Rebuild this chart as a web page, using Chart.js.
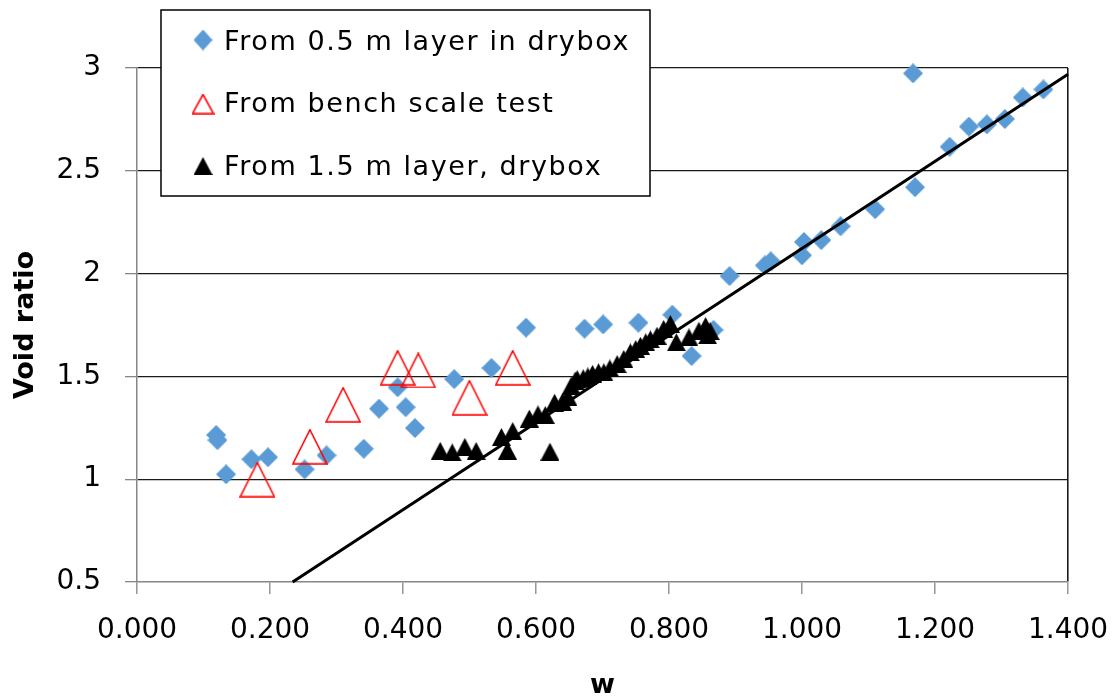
<!DOCTYPE html>
<html>
<head>
<meta charset="utf-8">
<title>Void ratio vs w</title>
<script src="https://cdn.jsdelivr.net/npm/chart.js@4.4.1/dist/chart.umd.min.js"></script>
<style>
    html, body { margin: 0; padding: 0; background: #fff; }
    #wrap { width: 1115px; height: 699px; }
</style>
</head>
<body>
<div id="wrap"><canvas id="voidratiograph" width="1115" height="699"></canvas></div>
<script>
// [w, void ratio] pairs for each test series
const drybox05 = [
    [0.119, 1.215], [0.121, 1.190], [0.134, 1.024], [0.172, 1.097], [0.197, 1.107],
    [0.252, 1.048], [0.285, 1.116], [0.341, 1.148], [0.364, 1.343], [0.392, 1.447],
    [0.404, 1.350], [0.418, 1.249], [0.477, 1.487], [0.533, 1.541], [0.585, 1.737],
    [0.673, 1.732], [0.701, 1.753], [0.754, 1.761], [0.805, 1.800], [0.834, 1.599],
    [0.858, 1.717], [0.867, 1.726], [0.891, 1.988], [0.944, 2.040], [0.953, 2.060],
    [1.000, 2.089], [1.003, 2.154], [1.029, 2.163], [1.058, 2.230], [1.110, 2.313],
    [1.167, 2.974], [1.170, 2.420], [1.222, 2.617], [1.251, 2.715], [1.278, 2.726],
    [1.305, 2.752], [1.332, 2.857], [1.363, 2.896],
];
const benchScale = [
    [0.181, 0.998], [0.260, 1.158], [0.310, 1.362], [0.392, 1.542],
    [0.423, 1.529], [0.500, 1.396], [0.565, 1.542],
];
const drybox15 = [
    [0.456, 1.138], [0.474, 1.130], [0.493, 1.157], [0.510, 1.137], [0.548, 1.205],
    [0.557, 1.139], [0.565, 1.234], [0.590, 1.295], [0.603, 1.315], [0.614, 1.312],
    [0.621, 1.134], [0.628, 1.372], [0.640, 1.377], [0.648, 1.400], [0.653, 1.455],
    [0.659, 1.480], [0.662, 1.487], [0.671, 1.491], [0.678, 1.500], [0.685, 1.512],
    [0.694, 1.520], [0.702, 1.520], [0.711, 1.539], [0.722, 1.560], [0.732, 1.585],
    [0.742, 1.617], [0.750, 1.633], [0.757, 1.649], [0.765, 1.666], [0.772, 1.680],
    [0.782, 1.698], [0.792, 1.731], [0.802, 1.755], [0.811, 1.666], [0.830, 1.690],
    [0.845, 1.722], [0.855, 1.745], [0.858, 1.700], [0.862, 1.720],
];
const trendLine = [[0.234, 0.5], [1.4, 2.97]];

const seriesLabels = [
    "From 0.5 m layer in drybox",
    "From bench scale test",
    "From 1.5 m layer, drybox",
];
const xTickLabels = ["0.000", "0.200", "0.400", "0.600", "0.800", "1.000", "1.200", "1.400"];
const yTickLabels = ["0.5", "1", "1.5", "2", "2.5", "3"];

const toPoints = (rows) => rows.map(([x, y]) => ({ x, y }));

// marker images
function makeMarker(w, h, draw) {
    const c = document.createElement("canvas");
    c.width = w;
    c.height = h;
    draw(c.getContext("2d"), w, h);
    return c;
}
const diamond = (w, h) => makeMarker(w, h, (g) => {
    g.fillStyle = "#5B9BD5";
    g.beginPath();
    g.moveTo(w / 2, 0);
    g.lineTo(w, h / 2);
    g.lineTo(w / 2, h);
    g.lineTo(0, h / 2);
    g.closePath();
    g.fill();
});
const openTriangle = (w, h) => makeMarker(w, h, (g) => {
    g.strokeStyle = "#FF0000";
    g.lineWidth = 1.6;
    g.beginPath();
    g.moveTo(w / 2, 1);
    g.lineTo(w - 1, h - 1);
    g.lineTo(1, h - 1);
    g.closePath();
    g.stroke();
});
const solidTriangle = (w, h) => makeMarker(w, h, (g) => {
    g.fillStyle = "#000";
    g.beginPath();
    g.moveTo(w / 2, 0);
    g.lineTo(w, h);
    g.lineTo(0, h);
    g.closePath();
    g.fill();
});

const markers = [diamond(20, 20), openTriangle(36, 36), solidTriangle(19, 18)];
const legendMarkers = [diamond(19, 21), openTriangle(23, 21), solidTriangle(19, 18)];

const axisGray = "#868686";
const gridBlack = "#1a1a1a";

// boxed legend sitting over the top-left of the plot
const legendBox = {
    id: "legendBox",
    afterDraw(chart) {
        const ctx = chart.ctx;
        ctx.save();
        ctx.fillStyle = "#fff";
        ctx.fillRect(161, 10, 489, 186);
        ctx.strokeStyle = "#000";
        ctx.lineWidth = 1.5;
        ctx.strokeRect(161, 10, 489, 186);
        ctx.font = "27px 'DejaVu Sans'";
        ctx.letterSpacing = "1.6px";
        ctx.fillStyle = "#000";
        ctx.textBaseline = "alphabetic";
        const rows = [40, 104, 166];
        const baselines = [50, 112, 175];
        legendMarkers.forEach((m, i) => {
            ctx.drawImage(m, 203 - m.width / 2, rows[i] - m.height / 2);
            ctx.fillText(seriesLabels[i], 224, baselines[i]);
        });
        ctx.restore();
    },
};

const data = {
    datasets: [
        {
            label: "trend",
            data: toPoints(trendLine),
            showLine: true,
            borderColor: "#000",
            borderWidth: 3,
            pointRadius: 0,
            order: 0,
            clip: false,
        },
        {
            label: seriesLabels[2],
            data: toPoints(drybox15),
            pointStyle: markers[2],
            pointRadius: 10,
            order: 1,
            clip: false,
        },
        {
            label: seriesLabels[1],
            data: toPoints(benchScale),
            pointStyle: markers[1],
            pointRadius: 18,
            order: 2,
            clip: false,
        },
        {
            label: seriesLabels[0],
            data: toPoints(drybox05),
            pointStyle: markers[0],
            pointRadius: 10,
            order: 3,
            clip: false,
        },
    ],
};

const config = {
    type: "scatter",
    data: data,
    options: {
        responsive: false,
        animation: false,
        devicePixelRatio: 1,
        layout: { padding: { left: 0, right: 47, top: 68, bottom: 0 } },
        plugins: {
            legend: { display: false },
            tooltip: { enabled: false },
        },
        scales: {
            x: {
                type: "linear",
                min: 0,
                max: 1.4,
                afterFit: (s) => {
                    s.height = 117;
                    s.paddingLeft = 0;
                    s.paddingRight = 0;
                },
                ticks: {
                    stepSize: 0.2,
                    padding: 20,
                    color: "#000",
                    font: { family: "'DejaVu Sans'", size: 28 },
                    callback: (v, i) => xTickLabels[i],
                },
                grid: {
                    color: (c) => (c.index === xTickLabels.length - 1 ? gridBlack : "rgba(0,0,0,0)"),
                    lineWidth: 1.6,
                    tickColor: axisGray,
                    tickLength: 12,
                    tickWidth: 1.3,
                },
                border: { color: axisGray, width: 1.5 },
                title: {
                    display: true,
                    text: "w",
                    color: "#000",
                    font: { family: "'DejaVu Sans'", size: 27, weight: "bold", lineHeight: 0.95 },
                    padding: 0,
                },
            },
            y: {
                type: "linear",
                min: 0.5,
                max: 3,
                afterFit: (s) => {
                    s.width = 137;
                    s.paddingTop = 0;
                    s.paddingBottom = 0;
                },
                ticks: {
                    stepSize: 0.5,
                    padding: 24,
                    color: "#000",
                    font: { family: "'DejaVu Sans'", size: 28 },
                    callback: (v, i) => yTickLabels[i],
                },
                grid: {
                    color: (c) => (c.index === 0 ? "rgba(0,0,0,0)" : gridBlack),
                    lineWidth: 1.3,
                    tickColor: axisGray,
                    tickLength: 12,
                    tickWidth: 1.3,
                },
                border: { color: axisGray, width: 1.5 },
                title: {
                    display: true,
                    text: "Void ratio",
                    color: "#000",
                    font: { family: "'DejaVu Sans'", size: 27, weight: "bold", lineHeight: 0.8 },
                    padding: { top: 15, bottom: 0 },
                },
            },
        },
    },
    plugins: [legendBox],
};

const chart = new Chart(document.getElementById("voidratiograph").getContext("2d"), config);
</script>
</body>
</html>
